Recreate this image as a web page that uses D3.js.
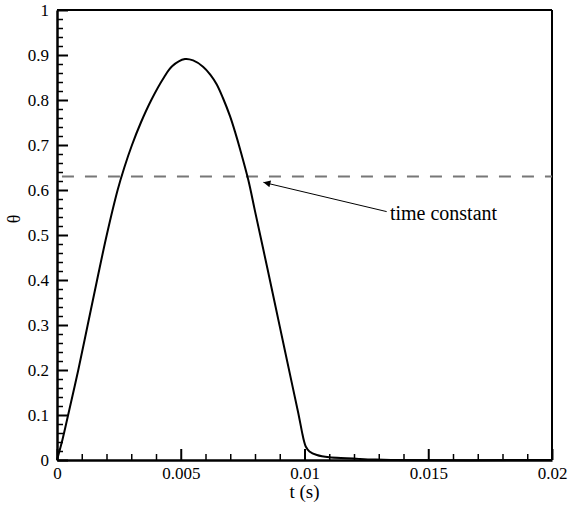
<!DOCTYPE html>
<meta charset="utf-8">
<body style="margin:0;background-color:white;">
<svg width="568" height="505"></svg>
<script src="https://d3js.org/d3.v7.min.js"></script>
<script>

// response curve (t in s, theta)
var tVals = [0, 0.00022, 0.00045, 0.00086, 0.00124, 0.00162, 0.00201, 0.00245, 0.00272, 0.00303,
             0.00339, 0.00381, 0.00432, 0.00465, 0.00517, 0.0055, 0.0059, 0.0062, 0.00645, 0.0067,
             0.00699, 0.0072, 0.0074, 0.00773, 0.008, 0.0085, 0.009, 0.0095, 0.00975, 0.0099,
             0.00998, 0.01005, 0.0102, 0.0105, 0.011, 0.0117, 0.0122, 0.0128, 0.0135, 0.02];
var thetaVals = [0, 0.045, 0.10, 0.20, 0.30, 0.40, 0.50, 0.60, 0.65, 0.70,
                 0.75, 0.80, 0.85, 0.875, 0.891, 0.888, 0.874, 0.856, 0.835, 0.805,
                 0.764, 0.728, 0.69, 0.622, 0.553, 0.426, 0.297, 0.168, 0.104, 0.062,
                 0.042, 0.03, 0.019, 0.011, 0.006, 0.004, 0.0025, 0.001, 0, 0];

var xTicks = [0, 0.005, 0.01, 0.015, 0.02];
var xTickLabels = ["0", "0.005", "0.01", "0.015", "0.02"];
var yTicks = [0, 0.1, 0.2, 0.3, 0.4, 0.5, 0.6, 0.7, 0.8, 0.9, 1];
var yTickLabels = ["0", "0.1", "0.2", "0.3", "0.4", "0.5", "0.6", "0.7", "0.8", "0.9", "1"];

var timeConstant = 0.63;
var annotation = {text: "time constant", tip: [0.00834, 0.617], tail: [0.01332, 0.552], label: [0.01345, 0.533]};

var svg = d3.select("svg");
var plotL = 57, plotR = 552, plotT = 10, plotB = 460;
var font = "Liberation Serif, Times New Roman, DejaVu Serif, serif";

var x = d3.scaleLinear().domain([0, 0.02]).range([plotL, plotR]);
var y = d3.scaleLinear().domain([0, 1]).range([plotB, plotT]);

var data = tVals.map(function(t, i) { return {t: t, v: thetaVals[i]}; });

// minor ticks
var xMinor = d3.range(0, 0.0201, 0.001).filter(function(d) { return Math.abs(d / 0.005 - Math.round(d / 0.005)) > 1e-6; });
var yMinor = d3.range(0, 1.001, 0.02).filter(function(d) { return Math.abs(d / 0.1 - Math.round(d / 0.1)) > 1e-6; });

svg.append("g").attr("transform", "translate(0," + plotB + ")")
   .call(d3.axisBottom(x).tickValues(xMinor).tickFormat("").tickSizeInner(-6).tickSizeOuter(0))
   .call(function(g) { g.select(".domain").remove(); g.selectAll("line").attr("stroke-width", 1.5); });
svg.append("g").attr("transform", "translate(" + plotL + ",0)")
   .call(d3.axisLeft(y).tickValues(yMinor).tickFormat("").tickSizeInner(-6).tickSizeOuter(0))
   .call(function(g) { g.select(".domain").remove(); g.selectAll("line").attr("stroke-width", 1.5); });

// frame top / right
svg.append("line").attr("x1", plotL).attr("x2", plotR).attr("y1", plotT).attr("y2", plotT)
   .attr("stroke", "#000").attr("stroke-width", 2);
svg.append("line").attr("x1", plotR).attr("x2", plotR).attr("y1", plotT).attr("y2", plotB)
   .attr("stroke", "#000").attr("stroke-width", 2);

// major axes
var xAxis = svg.append("g").attr("transform", "translate(0," + plotB + ")")
   .call(d3.axisBottom(x).tickValues(xTicks).tickFormat(function(d, i) { return xTickLabels[i]; })
         .tickSizeInner(-11).tickSizeOuter(0).tickPadding(7));
var yAxis = svg.append("g").attr("transform", "translate(" + plotL + ",0)")
   .call(d3.axisLeft(y).tickValues(yTicks).tickFormat(function(d, i) { return yTickLabels[i]; })
         .tickSizeInner(-11).tickSizeOuter(0).tickPadding(8));

[xAxis, yAxis].forEach(function(g) {
  g.attr("font-family", font).attr("font-size", 17);
  g.select(".domain").attr("stroke-width", 2.5);
  g.selectAll(".tick line").attr("stroke-width", 2);
  g.selectAll("text").attr("fill", "#000");
});

// dashed time constant line
svg.append("line")
   .attr("x1", x(0.0002)).attr("x2", plotR)
   .attr("y1", y(timeConstant)).attr("y2", y(timeConstant))
   .attr("stroke", "#777").attr("stroke-width", 2).attr("stroke-dasharray", "12,11");

// curve
var line = d3.line().x(function(d) { return x(d.t); }).y(function(d) { return y(d.v); })
             .curve(d3.curveCatmullRom.alpha(0.5));
svg.append("path").datum(data).attr("d", line)
   .attr("fill", "none").attr("stroke", "#000").attr("stroke-width", 2);

// annotation arrow
svg.append("defs").append("marker")
   .attr("id", "arrow").attr("viewBox", "0 0 10 10").attr("refX", 10).attr("refY", 5)
   .attr("markerWidth", 18).attr("markerHeight", 7).attr("markerUnits", "userSpaceOnUse")
   .attr("orient", "auto")
   .append("path").attr("d", "M0,0L10,5L0,10Z").attr("fill", "#000");

svg.append("line")
   .attr("x1", x(annotation.tail[0])).attr("y1", y(annotation.tail[1]))
   .attr("x2", x(annotation.tip[0])).attr("y2", y(annotation.tip[1]))
   .attr("stroke", "#000").attr("stroke-width", 1).attr("marker-end", "url(#arrow)");

svg.append("text")
   .attr("x", x(annotation.label[0])).attr("y", y(annotation.label[1]))
   .attr("font-family", font).attr("font-size", 20)
   .text(annotation.text);

// axis titles
svg.append("text")
   .attr("x", (plotL + plotR) / 2).attr("y", 498)
   .attr("text-anchor", "middle")
   .attr("font-family", font).attr("font-size", 19)
   .text("t (s)");

svg.append("text")
   .attr("transform", "translate(20,219)rotate(-90)")
   .attr("text-anchor", "middle")
   .attr("font-family", font).attr("font-size", 18)
   .text("θ");

</script>
</body>
